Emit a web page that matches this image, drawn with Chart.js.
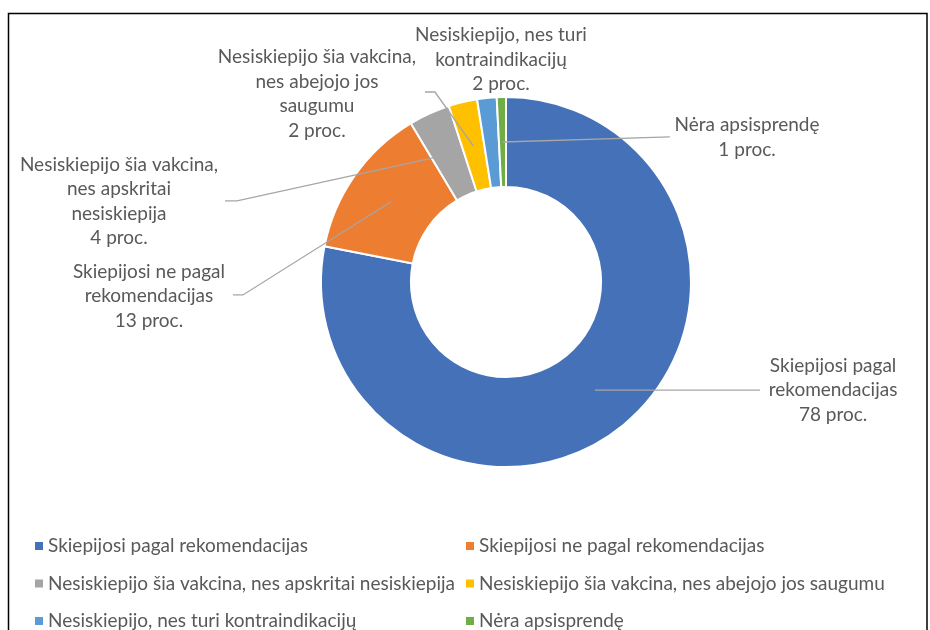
<!DOCTYPE html>
<html>
<head>
<meta charset="utf-8">
<script src="https://cdn.jsdelivr.net/npm/chart.js@4.4.1/dist/chart.umd.min.js"></script>
<style>
  html, body { margin: 0; padding: 0; background: #fff; }
  canvas { display: block; }
</style>
</head>
<body>
<canvas id="chartDonut" width="930" height="630"></canvas>
<script>
/* Skiepijimo pasiskirstymas — žiedinė diagrama */

const categories = [
  'Skiepijosi pagal rekomendacijas',
  'Skiepijosi ne pagal rekomendacijas',
  'Nesiskiepijo šia vakcina, nes apskritai nesiskiepija',
  'Nesiskiepijo šia vakcina, nes abejojo jos saugumu',
  'Nesiskiepijo, nes turi kontraindikacijų',
  'Nėra apsisprendę'
];
// slice sizes, percent
const shares = [78.1, 13.3, 3.6, 2.5, 1.7, 0.8];
// the percentages printed on the labels
const shownPct = [78, 13, 4, 2, 2, 1];
// how each data label is wrapped
const sliceLabelLines = [
  ['Skiepijosi pagal', 'rekomendacijas'],
  ['Skiepijosi ne pagal', 'rekomendacijas'],
  ['Nesiskiepijo šia vakcina,', 'nes apskritai', 'nesiskiepija'],
  ['Nesiskiepijo šia vakcina,', 'nes abejojo jos', 'saugumu'],
  ['Nesiskiepijo, nes turi', 'kontraindikacijų'],
  ['Nėra apsisprendę']
];
const colors = ['#4571B8', '#ED7D31', '#A5A5A5', '#FFC000', '#5B9BD5', '#70AD47'];

const FONT = '19px Lato, "Open Sans", sans-serif';
const TEXT_COLOR = '#595959';
const LEADER_COLOR = '#a6a6a6';
const LINE_H = 24.5;

// label block centre and leader path, in outer-radius units from the hole centre
const labelPos = [
  { x: 1.768, y: 0.584, path: [[1.373, 0.584]] },
  { x: -1.930, y: 0.076, path: [[-1.422, 0.070], [-1.476, 0.070]] },
  { x: -2.092, y: -0.435, path: [[-1.454, -0.438], [-1.519, -0.438]] },
  { x: -1.022, y: -1.016, path: [[-0.384, -1.027], [-0.438, -1.027]] },
  { x: -0.027, y: -1.203, path: [] },
  { x: 1.303, y: -0.781, path: [[0.886, -0.784]] }
];

const legendCols = [35, 466];
const legendTop = 546;
const legendRowGap = 37.5;

const framePlugin = {
  id: 'frame',
  beforeDraw(chart) {
    const ctx = chart.ctx;
    ctx.save();
    ctx.fillStyle = '#fff';
    ctx.fillRect(0, 0, chart.width, chart.height);
    ctx.strokeStyle = '#000';
    ctx.lineWidth = 1.5;
    ctx.beginPath();
    ctx.moveTo(8.5, chart.height + 2);
    ctx.lineTo(8.5, 13.5);
    ctx.lineTo(927, 13.5);
    ctx.lineTo(927, chart.height + 2);
    ctx.stroke();
    ctx.restore();
  }
};

const donutLabels = {
  id: 'donutLabels',
  afterDatasetsDraw(chart) {
    const ctx = chart.ctx;
    const arcs = chart.getDatasetMeta(0).data;
    ctx.save();
    ctx.font = FONT;
    ctx.textAlign = 'center';
    ctx.textBaseline = 'middle';
    arcs.forEach((arc, i) => {
      const p = arc.getProps(['x', 'y', 'startAngle', 'endAngle', 'innerRadius', 'outerRadius'], true);
      const R = p.outerRadius;
      const mid = (p.startAngle + p.endAngle) / 2;
      const rm = (p.innerRadius + p.outerRadius) / 2;
      const pos = labelPos[i];
      if (pos.path.length) {
        ctx.strokeStyle = LEADER_COLOR;
        ctx.lineWidth = 1.3;
        ctx.beginPath();
        ctx.moveTo(p.x + Math.cos(mid) * rm, p.y + Math.sin(mid) * rm);
        pos.path.forEach(pt => ctx.lineTo(p.x + pt[0] * R, p.y + pt[1] * R));
        ctx.stroke();
      }
      const lines = sliceLabelLines[i].concat(shownPct[i] + ' proc.');
      const top = p.y + pos.y * R - (lines.length - 1) * LINE_H / 2;
      ctx.fillStyle = TEXT_COLOR;
      lines.forEach((t, k) => ctx.fillText(t, p.x + pos.x * R, top + k * LINE_H));
    });
    ctx.restore();
  },
  afterDraw(chart) {
    const ctx = chart.ctx;
    ctx.save();
    ctx.font = FONT;
    ctx.textAlign = 'left';
    ctx.textBaseline = 'middle';
    categories.forEach((name, i) => {
      const lx = legendCols[i % 2];
      const ly = legendTop + Math.floor(i / 2) * legendRowGap;
      ctx.fillStyle = colors[i];
      ctx.fillRect(lx, ly - 4, 8, 8);
      ctx.fillStyle = TEXT_COLOR;
      ctx.fillText(name, lx + 13, ly);
    });
    ctx.restore();
  }
};

new Chart(document.getElementById('chartDonut'), {
  type: 'doughnut',
  data: {
    labels: categories,
    datasets: [{
      data: shares,
      backgroundColor: colors,
      borderColor: '#fff',
      borderWidth: 2
    }]
  },
  options: {
    responsive: false,
    animation: false,
    cutout: '51.4%',
    layout: { padding: { left: 320, right: 238, top: 96, bottom: 162 } },
    plugins: {
      legend: { display: false },
      tooltip: { enabled: false }
    }
  },
  plugins: [framePlugin, donutLabels]
});
</script>
</body>
</html>
